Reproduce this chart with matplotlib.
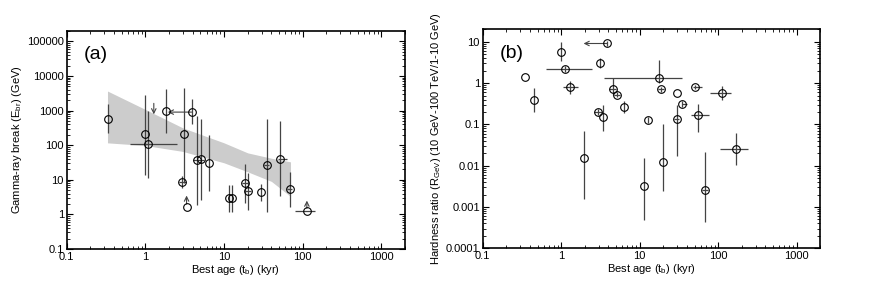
import matplotlib
matplotlib.use("Agg")
import matplotlib.pyplot as plt
from matplotlib.ticker import LogLocator, FuncFormatter, NullFormatter
import numpy as np

plt.rcParams.update({
    "font.family": ["Liberation Sans", "DejaVu Sans"],
    "font.size": 8,
    "mathtext.fontset": "custom",
    "mathtext.rm": "Liberation Sans",
    "mathtext.it": "Liberation Sans",
})

# ---- panel (a): gamma-ray break energy vs best age ----
a_age = [0.334, 1.00, 1.08, 1.84, 3.87, 3.12, 2.94, 3.34, 4.52, 5.14, 6.44,
         11.4, 12.5, 18.5, 20.2, 29.4, 34.8, 51.4, 68.4, 113]
a_ebr = [556, 204, 109, 970, 905, 204, 8.4, 1.69, 36.6, 40.2, 29.9,
         2.96, 2.96, 7.9, 4.7, 4.4, 26.2, 40, 5.4, 1.29]
a_lo = [229, 14, 11, 229, 400, 8.1, 5.8, 1.69, 1.89, 2.64, 4.6,
        1.21, 1.21, 2.1, 1.36, 2.5, 1.21, 3.3, 1.69, 1.29]
a_hi = [1510, 2750, 980, 4120, 2210, 4620, 12.6, 1.69, 690, 556, 191,
        7.2, 7.2, 29, 15.7, 7.7, 556, 496, 16.4, 1.29]
a_xlo = [0.334, 1.00, 0.63, 1.84, 3.87, 3.12, 2.65, 3.34, 4.07, 5.14, 6.44,
         11.4, 12.5, 17.0, 18.6, 29.4, 32.0, 48.0, 63.0, 80]
a_xhi = [0.334, 1.00, 2.49, 1.84, 3.87, 3.12, 3.29, 3.34, 5.56, 5.14, 6.44,
         11.4, 12.5, 20.1, 21.9, 29.4, 37.5, 63.0, 74.0, 145]

# upper limit (down arrow), lower limits (up arrows), age upper limit (left arrow)
a_ul_age, a_ul_from, a_ul_to = 1.28, 1620, 780
a_ll_age = [3.34, 113]
a_ll_from = [2.0, 1.5]
a_ll_to = [3.5, 2.5]
a_left_from, a_left_to, a_left_e = 3.87, 1.93, 905

# shaded band
band_age = [0.33, 1.0, 3.0, 10, 20, 40, 70]
band_top = [3680, 1080, 316, 117, 60, 42, 33]
band_bot = [117, 98, 66, 31, 17, 9, 3.3]

# ---- panel (b): hardness ratio vs best age ----
b_age = [0.344, 0.452, 1.00, 1.11, 1.28, 3.86, 3.15, 1.97, 2.94, 3.40, 4.56,
         5.12, 6.41, 12.6, 11.4, 17.5, 18.7, 20.0, 29.6, 29.6, 34.7, 51.2,
         55.8, 68, 112, 168]
b_hr = [1.44, 0.398, 5.7, 2.2, 0.81, 9.1, 3.1, 0.0153, 0.195, 0.151, 0.72,
        0.52, 0.27, 0.13, 0.0033, 1.31, 0.72, 0.0126, 0.565, 0.137, 0.31, 0.79,
        0.166, 0.0026, 0.58, 0.0257]
b_lo = [1.44, 0.195, 3.4, 1.85, 0.556, 8.0, 2.34, 0.0016, 0.17, 0.070, 0.52,
        0.45, 0.19, 0.11, 0.00049, 1.0, 0.62, 0.00245, 0.565, 0.0167, 0.27, 0.70,
        0.064, 0.00044, 0.38, 0.0101]
b_hi = [1.44, 0.76, 9.8, 2.6, 1.15, 10.4, 4.1, 0.070, 0.23, 0.30, 1.34,
        0.60, 0.36, 0.155, 0.0153, 3.6, 0.82, 0.102, 0.565, 0.30, 0.36, 0.90,
        0.32, 0.0214, 0.87, 0.062]
b_xlo = [0.344, 0.452, 1.00, 0.64, 1.06, 3.86, 3.15, 1.97, 2.60, 3.40, 4.10,
         4.70, 6.41, 12.6, 11.4, 3.5, 17.0, 20.0, 29.6, 27.0, 34.7, 48.0,
         45, 63, 79, 106]
b_xhi = [0.344, 0.452, 1.00, 2.49, 1.64, 3.86, 3.15, 1.97, 3.30, 3.40, 5.00,
         5.60, 6.41, 12.6, 11.4, 34.3, 20.4, 20.0, 29.6, 32.0, 40.0, 62.0,
         77, 74, 145, 243]
b_left_from, b_left_to, b_left_hr = 3.86, 1.93, 9.1

ECOL = "#444444"


def err(v, lo, hi):
    v, lo, hi = np.array(v), np.array(lo), np.array(hi)
    return [v - lo, hi - v]


def style(ax):
    ax.set_xscale("log")
    ax.set_yscale("log")
    ax.set_xlim(0.1, 2000)
    for s in ax.spines.values():
        s.set_linewidth(1.2)
    ax.tick_params(which="both", direction="in", top=True, right=True, pad=2)
    ax.tick_params(which="major", length=4, width=0.8)
    ax.tick_params(which="minor", length=2, width=0.6)
    ax.xaxis.set_minor_locator(LogLocator(base=10, subs=np.arange(2, 10), numticks=20))
    ax.yaxis.set_minor_locator(LogLocator(base=10, subs=np.arange(2, 10), numticks=20))
    ax.xaxis.set_minor_formatter(NullFormatter())
    ax.yaxis.set_minor_formatter(NullFormatter())
    fmt = FuncFormatter(lambda v, p: f"{v:.10f}".rstrip("0").rstrip("."))
    ax.xaxis.set_major_formatter(fmt)
    ax.yaxis.set_major_formatter(fmt)
    ax.set_xlabel("Best age (t$_{\\rm b}$) (kyr)", labelpad=1)


fig = plt.figure(figsize=(8.72, 2.88), dpi=100)
axa = fig.add_axes([0.0765, 0.1354, 0.388, 0.757])
axb = fig.add_axes([0.5535, 0.138, 0.3872, 0.760])

# (a)
style(axa)
axa.set_ylim(0.1, 2e5)
axa.yaxis.set_major_locator(LogLocator(base=10, numticks=10))
axa.fill_between(band_age, band_bot, band_top, color="#cccccc", lw=0, zorder=1)
axa.errorbar(a_age, a_ebr, yerr=err(a_ebr, a_lo, a_hi), xerr=err(a_age, a_xlo, a_xhi),
             fmt="o", ms=5.5, mfc="none", mec="black", mew=0.8,
             ecolor=ECOL, elinewidth=0.9, capsize=0, zorder=3)
axa.annotate("", xy=(a_ul_age, a_ul_to), xytext=(a_ul_age, a_ul_from),
             arrowprops=dict(arrowstyle="->", lw=0.8, color=ECOL, shrinkA=0, shrinkB=0))
for x, y0, y1 in zip(a_ll_age, a_ll_from, a_ll_to):
    axa.annotate("", xy=(x, y1), xytext=(x, y0),
                 arrowprops=dict(arrowstyle="->", lw=0.8, color=ECOL, shrinkA=0, shrinkB=0))
axa.annotate("", xy=(a_left_to, a_left_e), xytext=(a_left_from, a_left_e),
             arrowprops=dict(arrowstyle="->", lw=0.8, color=ECOL, shrinkA=0, shrinkB=0))
axa.set_ylabel("Gamma-ray break (E$_{\\rm br}$) (GeV)", labelpad=2)
axa.text(0.05, 0.93, "(a)", transform=axa.transAxes, fontsize=14, va="top")

# (b)
style(axb)
axb.set_ylim(1e-4, 20)
axb.yaxis.set_major_locator(LogLocator(base=10, numticks=10))
axb.errorbar(b_age, b_hr, yerr=err(b_hr, b_lo, b_hi), xerr=err(b_age, b_xlo, b_xhi),
             fmt="o", ms=5.5, mfc="none", mec="black", mew=0.8,
             ecolor=ECOL, elinewidth=0.9, capsize=0, zorder=3)
axb.annotate("", xy=(b_left_to, b_left_hr), xytext=(b_left_from, b_left_hr),
             arrowprops=dict(arrowstyle="->", lw=0.8, color=ECOL, shrinkA=0, shrinkB=0))
axb.set_ylabel("Hardness ratio (R$_{\\rm GeV}$) (10 GeV-100 TeV/1-10 GeV)", labelpad=2)
axb.text(0.05, 0.93, "(b)", transform=axb.transAxes, fontsize=14, va="top")

fig.savefig("out.png", dpi=100)
